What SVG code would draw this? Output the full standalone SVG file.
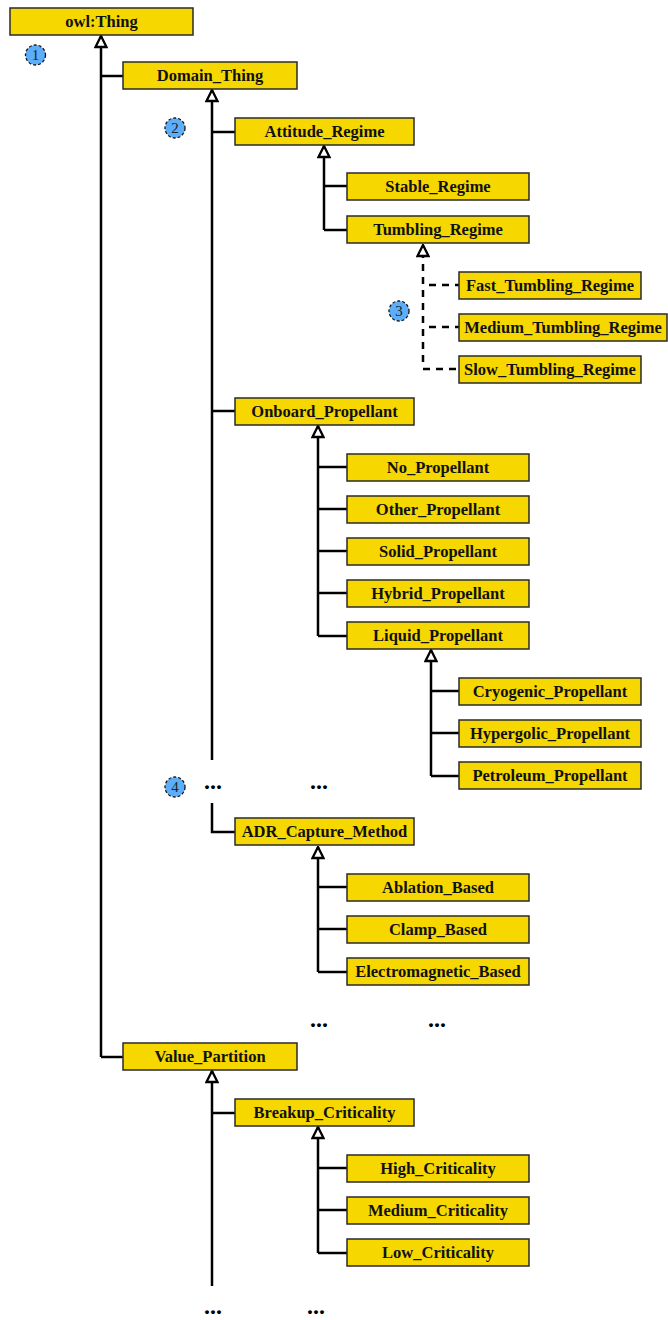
<svg xmlns="http://www.w3.org/2000/svg" width="668" height="1320" viewBox="0 0 668 1320">
<style>
.n rect{fill:#F6D800;stroke:#2a2a2a;stroke-width:1.5}
.n text{font-family:"Liberation Serif",serif;font-weight:bold;font-size:16.5px;fill:#111;text-anchor:middle;dominant-baseline:central}
.dots{font-family:"Liberation Serif",serif;font-weight:bold;font-size:24px;fill:#000;text-anchor:middle}
.e path{fill:none;stroke:#000;stroke-width:2.5}
.e path.d{stroke-dasharray:7,6}
.m circle{fill:#5DAEF8;stroke:#111;stroke-width:1.3;stroke-dasharray:3,2}
.m text{font-family:"Liberation Serif",serif;font-size:15px;fill:#222;text-anchor:middle;dominant-baseline:central}
</style>
<defs>
<marker id="tri" markerUnits="userSpaceOnUse" viewBox="0 0 14 14" markerWidth="14" markerHeight="14" refX="13" refY="7" orient="auto">
<path d="M2,1.5 L13,7 L2,12.5 Z" fill="#fff" stroke="#000" stroke-width="2.3" stroke-linejoin="miter"/>
</marker>
</defs>
<rect width="668" height="1320" fill="#fff"/>
<g class="e" id="connectors">
<path d="M101,1057 V36" marker-end="url(#tri)"/>
<path d="M101,76 H123"/>
<path d="M101,1057 H123"/>
<path d="M212,760 V90" marker-end="url(#tri)"/>
<path d="M212,132 H235"/>
<path d="M212,411 H235"/>
<path d="M212,803 V832 H235"/>
<path d="M324,230 V146" marker-end="url(#tri)"/>
<path d="M324,186 H347"/>
<path d="M324,230 H347"/>
<path class="d" d="M423,362 V245" marker-end="url(#tri)"/>
<path class="d" d="M429,285 H459"/>
<path class="d" d="M429,327 H459"/>
<path class="d" d="M423,369 H459"/>
<path d="M318,636 V426" marker-end="url(#tri)"/>
<path d="M318,467 H347"/>
<path d="M318,509 H347"/>
<path d="M318,551 H347"/>
<path d="M318,593 H347"/>
<path d="M318,636 H347"/>
<path d="M431,776 V650" marker-end="url(#tri)"/>
<path d="M431,691 H459"/>
<path d="M431,733 H459"/>
<path d="M431,776 H459"/>
<path d="M318,972 V847" marker-end="url(#tri)"/>
<path d="M318,887 H347"/>
<path d="M318,929 H347"/>
<path d="M318,972 H347"/>
<path d="M212,1286 V1071" marker-end="url(#tri)"/>
<path d="M212,1113 H235"/>
<path d="M318,1253 V1127" marker-end="url(#tri)"/>
<path d="M318,1168 H347"/>
<path d="M318,1210 H347"/>
<path d="M318,1253 H347"/>
</g>
<g class="n" id="owl_Thing"><rect x="10" y="8" width="183" height="27"/><text x="101.5" y="21.5">owl:Thing</text></g>
<g class="n" id="Domain_Thing"><rect x="123" y="62" width="174" height="27"/><text x="210" y="75.5">Domain_Thing</text></g>
<g class="n" id="Attitude_Regime"><rect x="235" y="118" width="179" height="27"/><text x="324.5" y="131.5">Attitude_Regime</text></g>
<g class="n" id="Stable_Regime"><rect x="347" y="173" width="182" height="27"/><text x="438" y="186.5">Stable_Regime</text></g>
<g class="n" id="Tumbling_Regime"><rect x="347" y="216" width="182" height="27"/><text x="438" y="229.5">Tumbling_Regime</text></g>
<g class="n" id="Fast_Tumbling_Regime"><rect x="459" y="272" width="182" height="27"/><text x="550" y="285.5">Fast_Tumbling_Regime</text></g>
<g class="n" id="Medium_Tumbling_Regime"><rect x="459" y="314" width="208" height="27"/><text x="563" y="327.5">Medium_Tumbling_Regime</text></g>
<g class="n" id="Slow_Tumbling_Regime"><rect x="459" y="356" width="182" height="27"/><text x="550" y="369.5">Slow_Tumbling_Regime</text></g>
<g class="n" id="Onboard_Propellant"><rect x="235" y="398" width="179" height="27"/><text x="324.5" y="411.5">Onboard_Propellant</text></g>
<g class="n" id="No_Propellant"><rect x="347" y="454" width="182" height="27"/><text x="438" y="467.5">No_Propellant</text></g>
<g class="n" id="Other_Propellant"><rect x="347" y="496" width="182" height="27"/><text x="438" y="509.5">Other_Propellant</text></g>
<g class="n" id="Solid_Propellant"><rect x="347" y="538" width="182" height="27"/><text x="438" y="551.5">Solid_Propellant</text></g>
<g class="n" id="Hybrid_Propellant"><rect x="347" y="580" width="182" height="27"/><text x="438" y="593.5">Hybrid_Propellant</text></g>
<g class="n" id="Liquid_Propellant"><rect x="347" y="622" width="182" height="27"/><text x="438" y="635.5">Liquid_Propellant</text></g>
<g class="n" id="Cryogenic_Propellant"><rect x="459" y="678" width="182" height="27"/><text x="550" y="691.5">Cryogenic_Propellant</text></g>
<g class="n" id="Hypergolic_Propellant"><rect x="459" y="720" width="182" height="27"/><text x="550" y="733.5">Hypergolic_Propellant</text></g>
<g class="n" id="Petroleum_Propellant"><rect x="459" y="762" width="182" height="27"/><text x="550" y="775.5">Petroleum_Propellant</text></g>
<g class="n" id="ADR_Capture_Method"><rect x="235" y="818" width="179" height="27"/><text x="324.5" y="831.5">ADR_Capture_Method</text></g>
<g class="n" id="Ablation_Based"><rect x="347" y="874" width="182" height="27"/><text x="438" y="887.5">Ablation_Based</text></g>
<g class="n" id="Clamp_Based"><rect x="347" y="916" width="182" height="27"/><text x="438" y="929.5">Clamp_Based</text></g>
<g class="n" id="Electromagnetic_Based"><rect x="347" y="958" width="182" height="27"/><text x="438" y="971.5">Electromagnetic_Based</text></g>
<g class="n" id="Value_Partition"><rect x="123" y="1043" width="174" height="27"/><text x="210" y="1056.5">Value_Partition</text></g>
<g class="n" id="Breakup_Criticality"><rect x="235" y="1099" width="179" height="27"/><text x="324.5" y="1112.5">Breakup_Criticality</text></g>
<g class="n" id="High_Criticality"><rect x="347" y="1155" width="182" height="27"/><text x="438" y="1168.5">High_Criticality</text></g>
<g class="n" id="Medium_Criticality"><rect x="347" y="1197" width="182" height="27"/><text x="438" y="1210.5">Medium_Criticality</text></g>
<g class="n" id="Low_Criticality"><rect x="347" y="1239" width="182" height="27"/><text x="438" y="1252.5">Low_Criticality</text></g>
<g id="ellipses">
<text class="dots" x="213" y="789">...</text>
<text class="dots" x="319" y="789">...</text>
<text class="dots" x="319" y="1027">...</text>
<text class="dots" x="437" y="1027">...</text>
<text class="dots" x="213" y="1314">...</text>
<text class="dots" x="316" y="1314">...</text>
</g>
<g class="m" id="marker1"><circle cx="35.5" cy="55" r="10"/><text x="35.5" y="55">1</text></g>
<g class="m" id="marker2"><circle cx="175" cy="128" r="10"/><text x="175" y="128">2</text></g>
<g class="m" id="marker3"><circle cx="399" cy="311" r="10"/><text x="399" y="311">3</text></g>
<g class="m" id="marker4"><circle cx="175" cy="787" r="10"/><text x="175" y="787">4</text></g>
</svg>
